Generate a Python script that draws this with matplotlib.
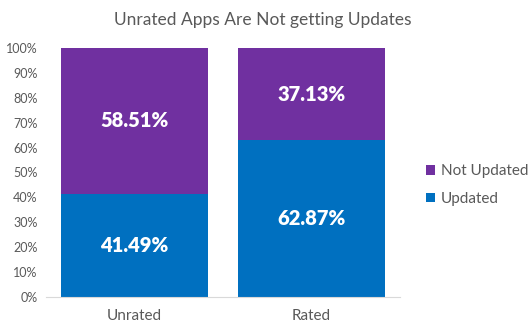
import matplotlib.pyplot as plt
from matplotlib.ticker import PercentFormatter

plt.rcParams['font.family'] = ['Lato', 'DejaVu Sans']

categories = ['Unrated', 'Rated']
updated = [41.49, 62.87]
not_updated = [58.51, 37.13]

blue = '#0070C0'
purple = '#7030A0'
grey = '#595959'

fig = plt.figure(figsize=(5.3, 3.36), dpi=100)
ax = fig.add_axes([46 / 530, 1 - 297 / 336, 354 / 530, 249 / 336])

x = range(len(categories))
b1 = ax.bar(x, updated, width=0.83, color=blue, label='Updated')
b2 = ax.bar(x, not_updated, width=0.83, bottom=updated, color=purple, label='Not Updated')

for bars, vals, base in [(b1, updated, [0, 0]), (b2, not_updated, updated)]:
    for rect, v, b in zip(bars, vals, base):
        ax.text(rect.get_x() + rect.get_width() / 2, b + v / 2, f'{v:.2f}%',
                ha='center', va='center', color='white', fontsize=14.5, fontweight='heavy')

ax.set_xlim(-0.5, 1.5)
ax.set_ylim(0, 100)
ax.set_yticks(range(0, 101, 10))
ax.yaxis.set_major_formatter(PercentFormatter(decimals=0))
ax.set_xticks(list(x))
ax.set_xticklabels(categories, fontsize=11, color=grey)
ax.tick_params(axis='y', labelsize=9, colors=grey, length=0, pad=6)
ax.tick_params(axis='x', length=0, pad=9)
for side in ['top', 'right', 'left']:
    ax.spines[side].set_visible(False)
ax.spines['bottom'].set_color('#D9D9D9')

fig.text(263 / 530, 1 - 20 / 336, 'Unrated Apps Are Not getting Updates',
         ha='center', va='center', fontsize=12.5, color=grey)

handles = [b2, b1]
fig.legend(handles, ['Not Updated', 'Updated'], loc='center left',
           bbox_to_anchor=(412 / 530, 1 - 185 / 336), frameon=False,
           fontsize=11, labelcolor=grey, handlelength=0.6, handleheight=0.6,
           handletextpad=0.4, labelspacing=0.9)

fig.savefig('out.png', dpi=100)
